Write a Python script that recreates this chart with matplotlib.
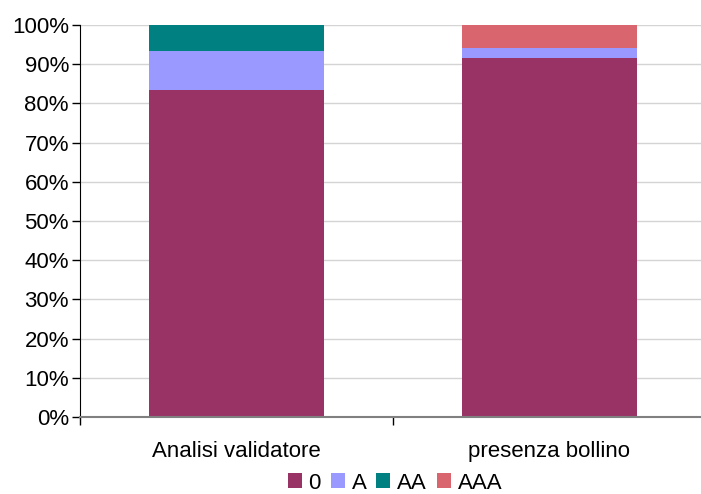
import matplotlib
matplotlib.use("Agg")
import matplotlib.pyplot as plt
from matplotlib.patches import Patch
from matplotlib.ticker import FuncFormatter, FixedLocator

plt.rcParams['font.family'] = ['Liberation Sans', 'DejaVu Sans']

categories = ["Analisi validatore", "presenza bollino"]
series_names = ["0", "A", "AA", "AAA"]
values_0 = [83.5, 91.5]
values_A = [9.8, 2.7]
values_AA = [6.7, 0.0]
values_AAA = [0.0, 5.8]
colors = ["#993366", "#9999FF", "#008080", "#D9666F"]

fig = plt.figure(figsize=(7.01, 4.94), dpi=100)
ax = fig.add_axes([80 / 701, 77 / 494, 626 / 701, 392 / 494])

x = list(range(len(categories)))
bottom = [0.0] * len(categories)
for vals, col in zip([values_0, values_A, values_AA, values_AAA], colors):
    ax.bar(x, vals, bottom=bottom, width=0.56, color=col, zorder=2)
    bottom = [b + v for b, v in zip(bottom, vals)]

ax.set_xlim(-0.5, len(categories) - 0.5)
ax.set_ylim(0, 100)
ax.set_yticks(range(0, 101, 10))
ax.yaxis.set_major_formatter(FuncFormatter(lambda v, p: f"{int(v)}%"))
ax.yaxis.grid(True, color="#d4d4d4", linewidth=1.0, zorder=0)
ax.set_axisbelow(True)

ax.set_xticks(x)
ax.set_xticklabels(categories)
ax.xaxis.set_minor_locator(FixedLocator([i - 0.5 for i in range(len(categories) + 1)]))
ax.tick_params(axis="x", which="major", length=0, pad=17, labelsize=16)
ax.tick_params(axis="x", which="minor", length=6, width=1, color="black", direction="out")
ax.tick_params(axis="y", length=6, width=1, direction="out", labelsize=16, pad=2)

for s in ["top", "right"]:
    ax.spines[s].set_visible(False)
ax.spines["left"].set_color("black")
ax.spines["bottom"].set_color("#808080")
ax.spines["bottom"].set_linewidth(1.5)

handles = [Patch(facecolor=c, edgecolor="none") for c in colors]
fig.legend(handles, series_names, loc="center", bbox_to_anchor=(395 / 701, 1 - 483 / 494),
           ncol=4, frameon=False, fontsize=16, handlelength=0.63, handleheight=0.63,
           handletextpad=0.3, columnspacing=0.45, borderpad=0.1)

fig.savefig("out.png", dpi=100)
